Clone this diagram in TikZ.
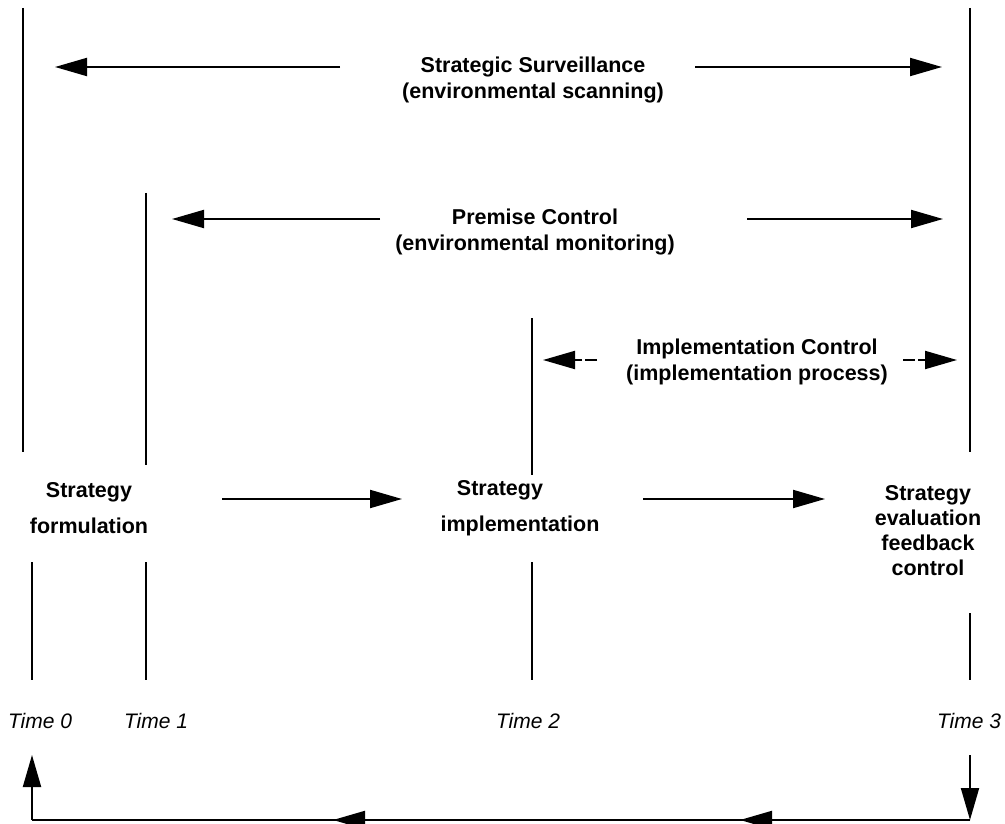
\documentclass[tikz,border=0pt]{standalone}
\usepackage{fontspec}
\setmainfont{Liberation Sans}
\usetikzlibrary{arrows.meta}

\begin{document}
\begin{tikzpicture}[x=1pt,y=-1pt,
  rule/.style={line width=2pt},
  flow/.style={line width=2pt,-{Triangle[length=32pt,width=18pt]}},
  brokenflow/.style={flow,dash pattern=on 12pt off 3pt},
  lbl/.style={font=\bfseries\fontsize{21.5}{26}\selectfont,align=center,inner sep=0pt},
  tlbl/.style={font=\itshape\fontsize{21}{25}\selectfont,inner sep=0pt}]
\useasboundingbox (0,0) rectangle (1005,824);

% time lines, upper parts
\coordinate (u0a) at (23,8);    \coordinate (u0b) at (23,452);
\coordinate (u1a) at (146,193); \coordinate (u1b) at (146,465);
\coordinate (u2a) at (532,318); \coordinate (u2b) at (532,475);
\coordinate (u3a) at (970,8);   \coordinate (u3b) at (970,452);
% time lines, lower parts
\coordinate (l0a) at (32,562);  \coordinate (l0b) at (32,680);
\coordinate (l1a) at (146,562); \coordinate (l1b) at (146,680);
\coordinate (l2a) at (532,562); \coordinate (l2b) at (532,680);
\coordinate (l3a) at (970,613); \coordinate (l3b) at (970,680);

\foreach \p in {u0,u1,u2,u3,l0,l1,l2,l3}
  \draw[rule] (\p a) -- (\p b);

% control labels
\node[lbl] (surv) at (533,80) {Strategic Surveillance\\(environmental scanning)};
\node[lbl] (prem) at (535,232) {Premise Control\\(environmental monitoring)};
\node[lbl] (impl) at (757,362) {Implementation Control\\(implementation process)};

% control spans
\coordinate (sL0) at (340,67); \coordinate (sL1) at (55,67);
\coordinate (sR0) at (695,67); \coordinate (sR1) at (942,67);
\coordinate (pL0) at (380,219); \coordinate (pL1) at (172,219);
\coordinate (pR0) at (747,219); \coordinate (pR1) at (943,219);
\coordinate (iL0) at (597,360); \coordinate (iL1) at (543,360);
\coordinate (iR0) at (903,360); \coordinate (iR1) at (957,360);
\draw[flow] (sL0) -- (sL1);
\draw[flow] (sR0) -- (sR1);
\draw[flow] (pL0) -- (pL1);
\draw[flow] (pR0) -- (pR1);
\draw[brokenflow] (iL0) -- (iL1);
\draw[brokenflow] (iR0) -- (iR1);

% stages
\node[lbl,font=\bfseries\fontsize{21.5}{36}\selectfont] (form) at (89,508) {Strategy\\formulation};
\node[lbl,font=\bfseries\fontsize{21.5}{36}\selectfont] (impst) at (520,508) {Strategy\hspace*{40pt}\\implementation};
\node[lbl,font=\bfseries\fontsize{21.5}{25}\selectfont] (eval) at (928,531) {Strategy\\evaluation\\feedback\\control};

\coordinate (a1) at (222,499); \coordinate (a2) at (402,499);
\coordinate (a3) at (643,499); \coordinate (a4) at (825,499);
\draw[flow] (a1) -- (a2);
\draw[flow] (a3) -- (a4);

% time marks
\node[tlbl] (t0) at (40,721) {Time 0};
\node[tlbl] (t1) at (156,721) {Time 1};
\node[tlbl] (t2) at (528,721) {Time 2};
\node[tlbl] (t3) at (969,721) {Time 3};

% feedback loop
\coordinate (fR0) at (970,755); \coordinate (fR1) at (970,820);
\coordinate (fL1) at (32,820);  \coordinate (fL0) at (32,755);
\coordinate (m1) at (740,820);  \coordinate (m2) at (333,820);
\draw[rule] (fR1) -- (fL1);
\draw[flow] (fR0) -- (fR1);
\draw[flow] (fL1) -- (fL0);
\draw[flow] (fR1) -- (m1);
\draw[flow] (m1) -- (m2);
\end{tikzpicture}
\end{document}
